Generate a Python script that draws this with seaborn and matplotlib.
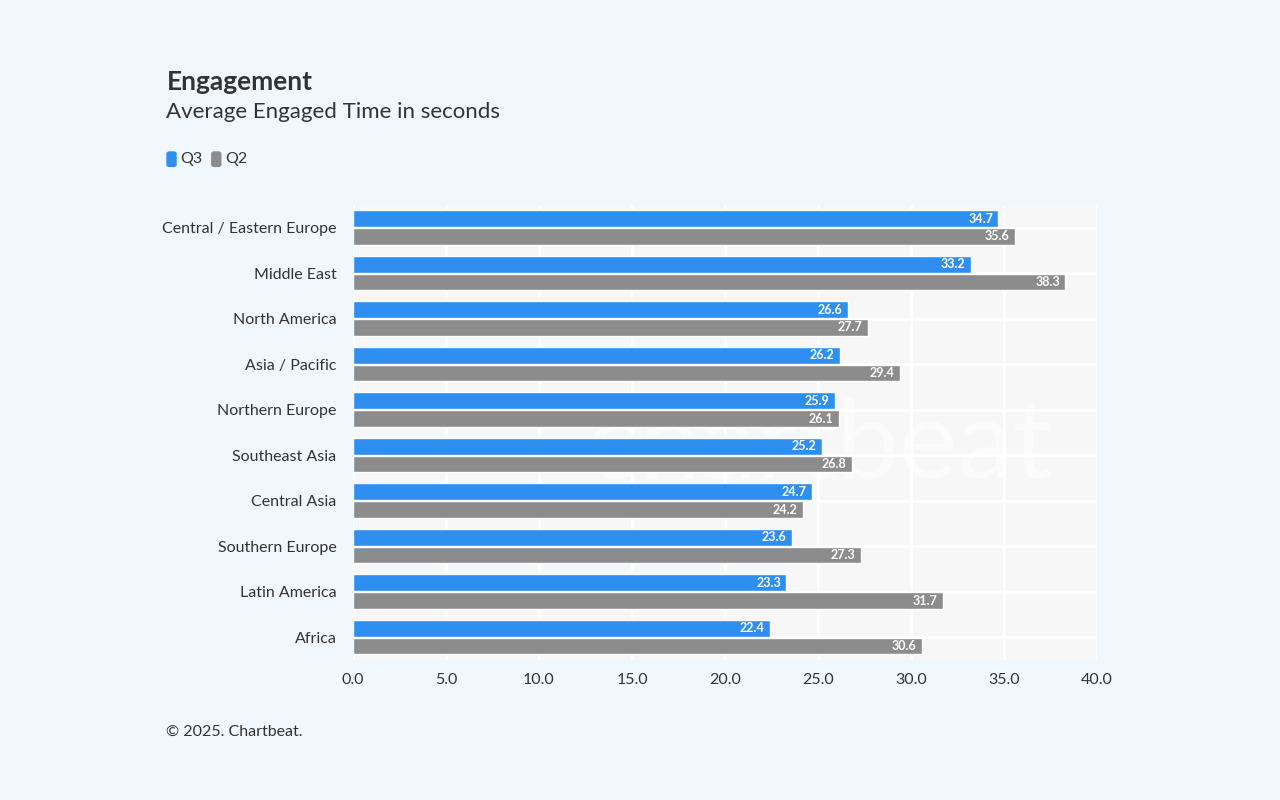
import matplotlib
matplotlib.use("Agg")
import matplotlib.pyplot as plt
import seaborn as sns
import pandas as pd

regions = ["Central / Eastern Europe", "Middle East", "North America", "Asia / Pacific",
           "Northern Europe", "Southeast Asia", "Central Asia", "Southern Europe",
           "Latin America", "Africa"]
q3 = [34.7, 33.2, 26.6, 26.2, 25.9, 25.2, 24.7, 23.6, 23.3, 22.4]
q2 = [35.6, 38.3, 27.7, 29.4, 26.1, 26.8, 24.2, 27.3, 31.7, 30.6]

df = pd.DataFrame({"region": regions * 2, "value": q3 + q2,
                   "quarter": ["Q3"] * len(regions) + ["Q2"] * len(regions)})

sns.set_style("whitegrid")
plt.rcParams["font.family"] = ["Lato", "DejaVu Sans"]
bg = "#f0f8fd"
fig = plt.figure(figsize=(12.8, 8), dpi=100, facecolor=bg)
ax = fig.add_axes([0.2758, 0.175, 0.5813, 0.569])
ax.set_facecolor("#f7f7f7")

sns.barplot(data=df, y="region", x="value", hue="quarter", orient="h",
            palette={"Q3": "#2f8ff0", "Q2": "#8c8c8c"}, saturation=1,
            width=0.78, gap=0.06, legend=False, ax=ax, zorder=3)

for cont in ax.containers:
    labels = ax.bar_label(cont, fmt="%.1f", padding=-4, color="white", fontsize=9,
                          fontweight="bold", label_type="edge")
    for t in labels:
        t.set_horizontalalignment("right")

ax.set_xlim(0, 40)
ax.set_xticks([0, 5, 10, 15, 20, 25, 30, 35, 40])
ax.set_xticklabels([f"{v:.1f}" for v in ax.get_xticks()])
ax.set_xlabel("")
ax.set_ylabel("")
ax.grid(True, color="white", linewidth=2, zorder=0)
ax.set_axisbelow(True)
for s in ax.spines.values():
    s.set_visible(False)
ax.tick_params(axis="both", length=0, labelsize=11.5, colors="#333333")
ax.tick_params(axis="y", pad=12)
ax.tick_params(axis="x", pad=9)

ax.text(0.94, 0.47, "chartbeat", transform=ax.transAxes, fontsize=80, color="white",
        alpha=0.5, ha="right", va="center", zorder=1)

fig.text(0.13, 0.888, "Engagement", fontsize=19, fontweight="bold", color="#333333")
fig.text(0.13, 0.853, "Average Engaged Time in seconds", fontsize=16, color="#333333")
fig.patches.append(matplotlib.patches.FancyBboxPatch((0.1305, 0.792), 0.007, 0.018,
                   boxstyle="round,pad=0,rounding_size=0.002", color="#2f8ff0",
                   transform=fig.transFigure, figure=fig))
fig.text(0.141, 0.801, "Q3", fontsize=11.5, color="#333333", va="center")
fig.patches.append(matplotlib.patches.FancyBboxPatch((0.1655, 0.792), 0.007, 0.018,
                   boxstyle="round,pad=0,rounding_size=0.002", color="#8c8c8c",
                   transform=fig.transFigure, figure=fig))
fig.text(0.176, 0.801, "Q2", fontsize=11.5, color="#333333", va="center")
fig.text(0.13, 0.08, "© 2025. Chartbeat.", fontsize=11.5, color="#333333")

fig.savefig("out.png", dpi=100, facecolor=bg)
